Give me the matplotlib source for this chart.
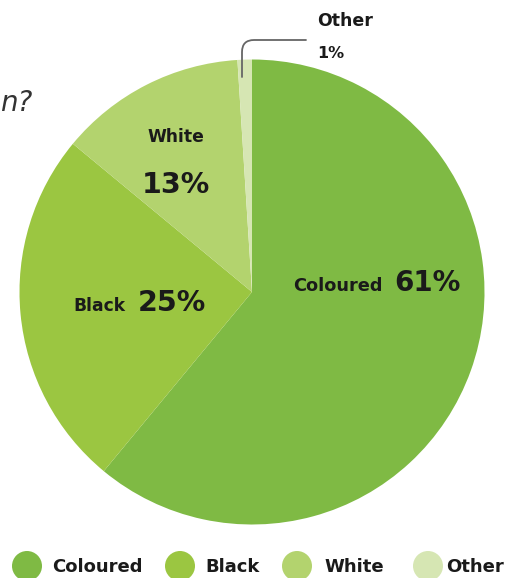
import matplotlib
matplotlib.use("Agg")
import matplotlib.pyplot as plt
from matplotlib.patches import Circle

categories = ["Coloured", "Black", "White", "Other"]
values = [61, 25, 13, 1]
colors = ["#7fba44", "#9bc641", "#b3d36e", "#d6e6b3"]

W, H = 520, 578
CX, CY, R = 252, 292, 232.5

fig = plt.figure(figsize=(W / 100, H / 100), dpi=100)
fig.patch.set_facecolor("white")
ax = fig.add_axes([(CX - R) / W, (H - CY - R) / H, 2 * R / W, 2 * R / H])
ax.pie(values, colors=colors, startangle=90, counterclock=False, radius=1,
       wedgeprops=dict(linewidth=0))
ax.set_xlim(-1, 1)
ax.set_ylim(-1, 1)
ax.set_aspect("equal")
ax.axis("off")

def d(px, py):
    return ((px - CX) / R, (CY - py) / R)

FAM = ["DejaVu Sans"]
tc = "#1a1a1a"

# slice labels
ax.text(*d(383, 286), "Coloured", ha="right", va="center", fontsize=12.8,
        fontweight="bold", family=FAM, color=tc)
ax.text(*d(394, 283), f"{values[0]}%", ha="left", va="center", fontsize=20,
        fontweight="bold", family=FAM, color=tc)
ax.text(*d(126, 306), "Black", ha="right", va="center", fontsize=12.3,
        fontweight="bold", family=FAM, color=tc)
ax.text(*d(138, 303), f"{values[1]}%", ha="left", va="center", fontsize=20.5,
        fontweight="bold", family=FAM, color=tc)
ax.text(*d(176, 137), "White", ha="center", va="center", fontsize=12.3,
        fontweight="bold", family=FAM, color=tc)
ax.text(*d(176, 185), f"{values[2]}%", ha="center", va="center", fontsize=20.5,
        fontweight="bold", family=FAM, color=tc)
ax.text(*d(317, 21), "Other", ha="left", va="center", fontsize=12.5,
        fontweight="bold", family=FAM, color=tc)
ax.text(*d(317, 53), f"{values[3]}%", ha="left", va="center", fontsize=11.5,
        fontweight="bold", family=FAM, color=tc)
ax.annotate("", xy=d(242, 77), xytext=d(306, 40), xycoords="data",
            arrowprops=dict(arrowstyle="-", color="#666666", lw=1.3,
                            connectionstyle="angle,angleA=0,angleB=90,rad=12",
                            shrinkA=0, shrinkB=0), annotation_clip=False)

# handwritten fragment on the left
fig.text(0 / W, 1 - 103 / H, "n?", ha="left", va="center", fontsize=20,
         style="italic", family=["DejaVu Sans"], fontweight="light", color="#333333")

# legend
lax = fig.add_axes([0, 0, 1, 1], facecolor="none")
lax.set_xlim(0, W)
lax.set_ylim(H, 0)
lax.axis("off")
mark_x = [27, 180, 297, 428]
text_x = [52, 205, 324, 446]
for cat, col, mx, tx in zip(categories, colors, mark_x, text_x):
    lax.add_patch(Circle((mx, 566), 15, color=col, lw=0))
    lax.text(tx, 567, cat, ha="left", va="center", fontsize=13,
             fontweight="bold", family=FAM, color=tc)

fig.savefig("out.png", dpi=100, facecolor="white")
